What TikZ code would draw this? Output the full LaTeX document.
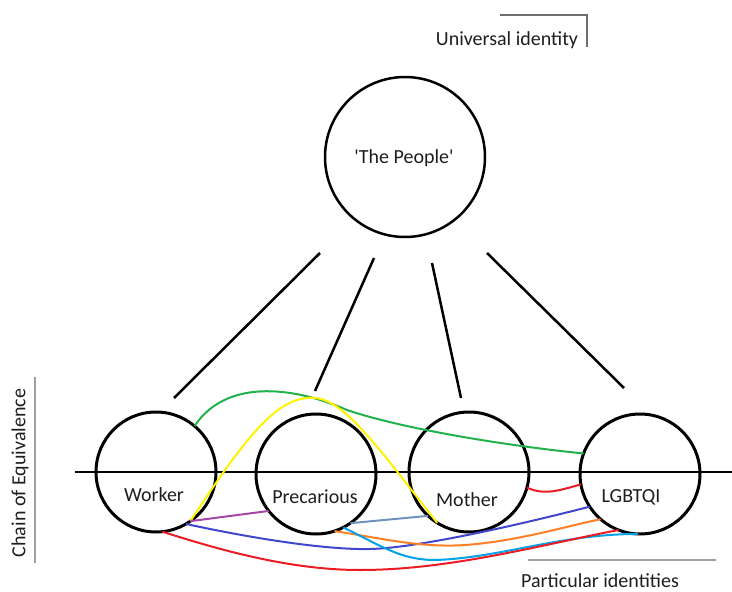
\documentclass[tikz,border=0pt]{standalone}
\usepackage{fontspec}
\setmainfont{Carlito}
\definecolor{pgreen}{HTML}{22B14C}
\definecolor{pyellow}{HTML}{FFF200}
\definecolor{ppurple}{HTML}{A349A4}
\definecolor{pblue}{HTML}{3F48CC}
\definecolor{porange}{HTML}{FF7F27}
\definecolor{pcyan}{HTML}{00A2E8}
\definecolor{pred}{HTML}{ED1C24}
\definecolor{psteel}{HTML}{7092BE}
\definecolor{ptext}{HTML}{1E1E1E}
\definecolor{pgray}{HTML}{6E6E6E}
\begin{document}
\begin{tikzpicture}[x=1pt,y=-1pt,
  bigcirc/.style={circle,draw=black,line width=2.5pt,minimum size=160pt,inner sep=0pt,outer sep=0pt},
  idcirc/.style={circle,draw=black,line width=3pt,minimum size=120pt,inner sep=0pt,outer sep=0pt},
  lbl/.style={text=ptext,font=\fontsize{20}{24}\selectfont,inner sep=0pt},
  spoke/.style={line width=2.5pt,black},
  link/.style={line width=2pt},
  rule/.style={line width=1.5pt,pgray}]
\useasboundingbox (0,0) rectangle (732,592);

% horizontal chain line
\coordinate (hl) at (75,472);
\coordinate (hr) at (732,472);
\draw[line width=2pt,black] (hl) -- (hr);

% circles
\node[bigcirc] (pp) at (405,157) {};
\node[idcirc] (w) at (156,472) {};
\node[idcirc] (p) at (316,474) {};
\node[idcirc] (m) at (469,472) {};
\node[idcirc] (l) at (640,474) {};

% texts
\node[lbl] (ppt) at (404,158) {\textquotesingle The People\textquotesingle};
\node[lbl] (wt) at (154,495) {Worker};
\node[lbl] (pt) at (315,497) {Precarious};
\node[lbl] (mt) at (467,500) {Mother};
\node[lbl] (lt) at (631,497) {LGBTQI};
\node[lbl] (ui) at (507,40) {Universal identity};
\node[lbl] (pi) at (600,581) {Particular identities};
\node[lbl,rotate=90] (ce) at (20,473) {Chain of Equivalence};

% gray rules
\coordinate (ua) at (500,15);
\coordinate (ub) at (587,15);
\coordinate (uc) at (587,47);
\draw[rule] (ua) -- (ub) -- (uc);
\coordinate (pa) at (528,560);
\coordinate (pb) at (716,560);
\draw[rule,line width=2pt,gray!75] (pa) -- (pb);
\coordinate (ca) at (35,377);
\coordinate (cb) at (35,563);
\draw[rule,line width=2pt,gray!75] (ca) -- (cb);

% spokes
\coordinate (s1a) at (320,253); \coordinate (s1b) at (174,398);
\coordinate (s2a) at (374,258); \coordinate (s2b) at (315,391);
\coordinate (s3a) at (432,263); \coordinate (s3b) at (461,398);
\coordinate (s4a) at (487,253); \coordinate (s4b) at (624,388);
\draw[spoke] (s1a) -- (s1b);
\draw[spoke] (s2a) -- (s2b);
\draw[spoke] (s3a) -- (s3b);
\draw[spoke] (s4a) -- (s4b);

% coloured links
\draw[link,pgreen] (w.50) .. controls (225,380) and (290,385) .. (347,410)
   .. controls (400,428) and (500,445) .. (l.160);
\draw[link,pyellow] (w.-55) .. controls (250,430) and (280,395) .. (315,398)
   .. controls (345,400) and (380,450) .. (m.-122);
\draw[link,ppurple] (w.-55) -- (p.-142);
\draw[link,psteel] (p.-55) -- (m.-133);
\draw[link,pblue] (w.-60) .. controls (260,540) and (330,550) .. (370,549)
   .. controls (420,548) and (530,522) .. (l.-147);
\draw[link,porange] (p.-72) .. controls (380,538) and (420,548) .. (465,545)
   .. controls (520,541) and (570,525) .. (l.-131);
\draw[link,pcyan] (p.-63) .. controls (380,545) and (400,560) .. (435,560)
   .. controls (500,558) and (560,534) .. (l.-92);
\draw[link,pred] (w.-84) .. controls (220,550) and (290,570) .. (360,570)
   .. controls (450,570) and (540,545) .. (l.-111);
\draw[link,pred] (m.-15) .. controls (545,496) and (560,490) .. (l.-170);
\end{tikzpicture}
\end{document}
